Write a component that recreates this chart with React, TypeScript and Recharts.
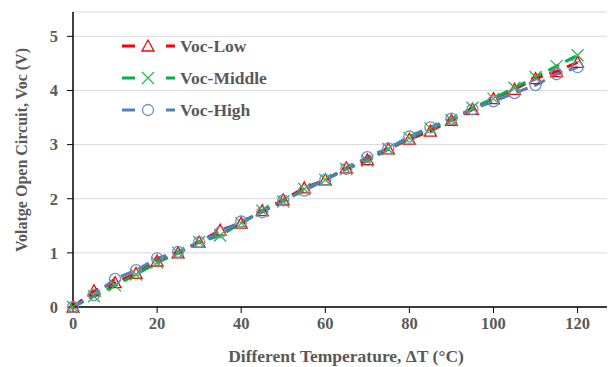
import { LineChart, Line, XAxis, YAxis, CartesianGrid } from 'recharts'

const temps = [0, 5, 10, 15, 20, 25, 30, 35, 40, 45, 50, 55, 60, 65, 70, 75, 80, 85, 90, 95, 100, 105, 110, 115, 120]
const vocLow = [0, 0.3, 0.45, 0.62, 0.85, 1.0, 1.2, 1.42, 1.55, 1.78, 1.98, 2.2, 2.35, 2.57, 2.72, 2.92, 3.1, 3.25, 3.45, 3.65, 3.85, 4.02, 4.22, 4.35, 4.52]
const vocMiddle = [0, 0.2, 0.4, 0.6, 0.82, 1.0, 1.2, 1.32, 1.55, 1.78, 1.95, 2.18, 2.35, 2.55, 2.7, 2.92, 3.12, 3.3, 3.45, 3.68, 3.85, 4.05, 4.25, 4.45, 4.65]
const vocHigh = [0, 0.22, 0.52, 0.68, 0.9, 1.02, 1.2, 1.38, 1.58, 1.75, 1.97, 2.15, 2.35, 2.55, 2.77, 2.93, 3.15, 3.32, 3.48, 3.65, 3.8, 3.95, 4.1, 4.3, 4.43]

const xTicks = [0, 20, 40, 60, 80, 100, 120]
const xMinorTicks = [0, 4, 8, 12, 16, 20, 24, 28, 32, 36, 40, 44, 48, 52, 56, 60, 64, 68, 72, 76, 80, 84, 88, 92, 96, 100, 104, 108, 112, 116, 120, 124]
const yTicks = [0, 1, 2, 3, 4, 5]
const yMinorTicks = [0, 0.2, 0.4, 0.6, 0.8, 1, 1.2, 1.4, 1.6, 1.8, 2, 2.2, 2.4, 2.6, 2.8, 3, 3.2, 3.4, 3.6, 3.8, 4, 4.2, 4.4, 4.6, 4.8, 5, 5.2, 5.4]

const data = temps.map((t, i) => ({ t, low: vocLow[i], middle: vocMiddle[i], high: vocHigh[i] }))

const RED = '#FF0000'
const GREEN = '#00B050'
const BLUE = '#4F7EC2'
const TEXT = '#595959'
const FONT = '"Liberation Serif", "Times New Roman", serif'

const TriangleDot = (props: any) => {
  const { cx, cy } = props
  if (cx == null || cy == null) return null
  return <path d={`M${cx},${cy - 6} L${cx + 6},${cy + 5} L${cx - 6},${cy + 5} Z`} fill="none" stroke={RED} strokeWidth={1.3} />
}

const CrossDot = (props: any) => {
  const { cx, cy } = props
  if (cx == null || cy == null) return null
  return <path d={`M${cx - 6},${cy - 6} L${cx + 6},${cy + 6} M${cx + 6},${cy - 6} L${cx - 6},${cy + 6}`} stroke="#2DB84D" strokeWidth={1.3} />
}

const CircleDot = (props: any) => {
  const { cx, cy } = props
  if (cx == null || cy == null) return null
  return <circle cx={cx} cy={cy} r={5.5} fill="none" stroke="#6C8FC6" strokeWidth={1.3} />
}

const legendItems = [
  { name: 'Voc-Low', color: RED, marker: 'tri' },
  { name: 'Voc-Middle', color: GREEN, marker: 'x' },
  { name: 'Voc-High', color: BLUE, marker: 'circle' },
]

// legend drawn as an overlay so it doesn't eat into the plot margins
function ChartLegend() {
  return (
    <div style={{ position: 'absolute', left: 120, top: 30 }}>
      {legendItems.map(item => (
        <div key={item.name} style={{ display: 'flex', alignItems: 'center', height: 32 }}>
          <svg width={58} height={16}>
            <line x1={2} y1={8} x2={15} y2={8} stroke={item.color} strokeWidth={3} />
            <line x1={46} y1={8} x2={55} y2={8} stroke={item.color} strokeWidth={3} />
            {item.marker === 'tri' && <TriangleDot cx={28} cy={8} />}
            {item.marker === 'x' && <CrossDot cx={28} cy={8} />}
            {item.marker === 'circle' && <CircleDot cx={28} cy={8} />}
          </svg>
          <span style={{ fontFamily: FONT, fontWeight: 'bold', fontSize: 17.5, color: TEXT, marginLeft: 2 }}>{item.name}</span>
        </div>
      ))}
    </div>
  )
}

const YLabel = () => (
  <text x={21} y={150} transform="rotate(-90 21 150)" textAnchor="middle" dominantBaseline="central"
    style={{ fontFamily: FONT, fontWeight: 'bold', fontSize: 16, fill: TEXT }}>
    Volatge Open Circuit, Voc (V)
  </text>
)

export default function App() {
  const tickStyle = { fontFamily: FONT, fontWeight: 'bold', fontSize: 16.5, fill: TEXT }
  return (
    <div style={{ position: 'absolute', left: 0, top: 0, width: 608, height: 367, background: '#fff' }}>
      <LineChart width={608} height={367} data={data} margin={{ top: 12, right: 1, left: 0, bottom: 0 }}>
        <CartesianGrid horizontal vertical={false} stroke="#D9D9D9" yAxisId="main" xAxisId="main" />
        <XAxis
          xAxisId="minor"
          dataKey="t"
          type="number"
          domain={[0, 127]}
          ticks={xMinorTicks}
          tick={false}
          axisLine={false}
          tickSize={-4}
          tickLine={{ stroke: '#000' }}
          height={0}
        />
        <XAxis
          xAxisId="main"
          dataKey="t"
          type="number"
          domain={[0, 127]}
          ticks={xTicks}
          tick={tickStyle}
          tickSize={6}
          tickMargin={4}
          axisLine={{ stroke: '#000', strokeWidth: 1.5 }}
          tickLine={{ stroke: '#000' }}
          height={60}
          label={{ value: 'Different Temperature, ΔT (°C)', position: 'insideBottom', offset: 5, dx: 6, style: { fontFamily: FONT, fontWeight: 'bold', fontSize: 17.5, fill: TEXT } }}
        />
        <YAxis
          yAxisId="minor"
          type="number"
          domain={[0, 5.45]}
          ticks={yMinorTicks}
          tick={false}
          axisLine={false}
          tickSize={-4}
          tickLine={{ stroke: '#000' }}
          width={0}
        />
        <YAxis
          yAxisId="main"
          type="number"
          domain={[0, 5.45]}
          ticks={yTicks}
          tick={tickStyle}
          tickSize={6}
          tickMargin={9}
          axisLine={{ stroke: '#000', strokeWidth: 1.5 }}
          tickLine={{ stroke: '#000' }}
          width={73}
          label={<YLabel />}
        />
        <Line xAxisId="main" yAxisId="main" dataKey="low" stroke={RED} strokeWidth={3} strokeDasharray="12 7" dot={<TriangleDot />} isAnimationActive={false} />
        <Line xAxisId="main" yAxisId="main" dataKey="middle" stroke={GREEN} strokeWidth={3} strokeDasharray="12 7" dot={<CrossDot />} isAnimationActive={false} />
        <Line xAxisId="main" yAxisId="main" dataKey="high" stroke={BLUE} strokeWidth={3} strokeDasharray="12 7" dot={<CircleDot />} isAnimationActive={false} />
      </LineChart>
      <ChartLegend />
    </div>
  )
}
